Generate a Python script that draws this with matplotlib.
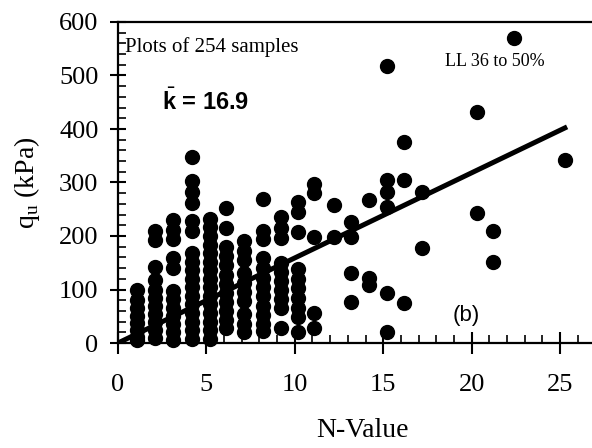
import numpy as np
import matplotlib.pyplot as plt
from matplotlib.ticker import MultipleLocator

plt.rcParams['font.family'] = ['Liberation Serif', 'DejaVu Serif']
plt.rcParams['mathtext.fontset'] = 'custom'
plt.rcParams['mathtext.rm'] = 'Liberation Sans'
plt.rcParams['mathtext.bf'] = 'Liberation Sans:bold'

# N-value of each column of dots
n_cols = [1.1, 2.1, 3.1, 4.2, 5.2, 6.1, 7.1, 8.2, 9.2, 10.2, 11.1,
          12.2, 13.2, 14.2, 15.2, 16.2, 17.2, 20.3, 21.2, 22.4, 25.3]

# qu (kPa) values in each column
qu_cols = [
    [99, 80, 65, 50, 38, 25, 12, 5],
    [210, 192, 142, 118, 100, 85, 70, 55, 40, 25, 10],
    [230, 212, 195, 158, 140, 98, 82, 66, 50, 35, 20, 6],
    [348, 302, 282, 262, 228, 210, 168, 152, 136, 120, 104, 88, 72, 56, 40, 24, 8],
    [232, 216, 200, 184, 168, 152, 136, 120, 104, 88, 72, 56, 40, 24, 8],
    [252, 215, 180, 162, 145, 128, 111, 94, 77, 60, 43, 28],
    [190, 172, 155, 130, 112, 95, 78, 55, 35, 20],
    [269, 210, 195, 158, 140, 122, 104, 88, 70, 52, 35, 22],
    [235, 215, 196, 150, 133, 116, 99, 82, 65, 28],
    [263, 245, 207, 138, 120, 102, 84, 66, 48, 20],
    [298, 280, 198, 56, 28],
    [258, 198],
    [226, 198, 131, 77],
    [267, 122, 108],
    [518, 305, 282, 254, 93, 20],
    [376, 305, 75],
    [283, 178],
    [432, 243],
    [210, 152],
    [570],
    [342],
]

# regression line qu = k * N
fit_n = [0, 25.4]
fit_q = [0, 404]

fig = plt.figure(figsize=(5.92, 4.48), dpi=100)
ax = fig.add_axes([118/592, 105/448, 488/592, 321/448])

for n, qs in zip(n_cols, qu_cols):
    ax.plot([n]*len(qs), qs, 'o', color='black', ms=10, mec='black', clip_on=False)

ax.plot(fit_n, fit_q, color='black', lw=3.6, solid_capstyle='butt')

ax.set_xlim(0, 27.6)
ax.set_ylim(0, 600)
ax.xaxis.set_major_locator(MultipleLocator(5))
ax.xaxis.set_minor_locator(MultipleLocator(1))
ax.yaxis.set_major_locator(MultipleLocator(100))
ax.yaxis.set_minor_locator(MultipleLocator(20))

ax.spines['right'].set_visible(False)
for s in ['left', 'bottom', 'top']:
    ax.spines[s].set_linewidth(1.6)

ax.tick_params(which='major', direction='inout', width=1.5, labelsize=19)
ax.tick_params(axis='y', which='major', length=12, pad=8)
ax.tick_params(axis='x', which='major', length=16, pad=14)
ax.tick_params(which='minor', direction='in', length=6, width=1.2)

ax.set_xlabel('N-Value', fontsize=20, labelpad=16)
ax.set_ylabel(r'q$_\mathregular{u}$ (kPa)', fontsize=20, labelpad=12)

ax.text(0.4, 544, 'Plots of 254 samples', fontsize=15, va='baseline')
ax.text(2.5, 435, r'$\bar{\mathbf{k}}$ = 16.9', fontsize=17, fontweight='bold',
        family='Liberation Sans', va='baseline')
ax.text(18.5, 518, 'LL 36 to 50%', fontsize=13, va='baseline')
ax.text(18.9, 52, '(b)', fontsize=16, family='Liberation Sans', va='center')

fig.savefig('out.png', dpi=100)
